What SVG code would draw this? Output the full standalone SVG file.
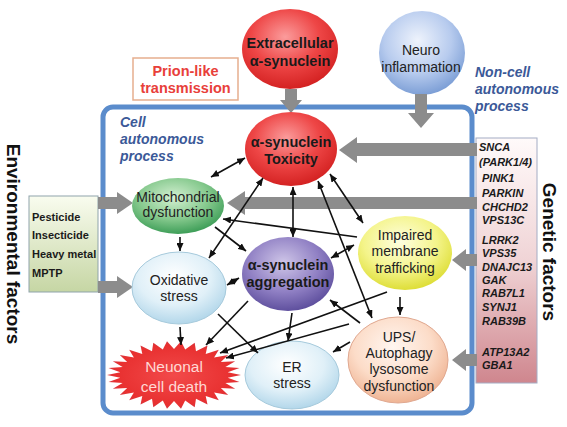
<svg xmlns="http://www.w3.org/2000/svg" width="567" height="427" viewBox="0 0 567 427">
<style>
text{font-family:"Liberation Sans",Arial,sans-serif;}
.t14{font-size:14px;fill:#222;text-anchor:middle;}
.b14{font-size:14.5px;font-weight:bold;fill:#1a1a1a;text-anchor:middle;}
.blue{font-size:14px;font-weight:bold;font-style:italic;fill:#3b5998;}
.gen{font-size:11px;font-weight:bold;font-style:italic;fill:#1a1a1a;}
.env{font-size:11px;font-weight:bold;fill:#1a1a1a;}
.side{font-size:19px;font-weight:bold;fill:#111;text-anchor:middle;}
.gray{fill:#8c8c8c;}
.ln{stroke:#111;stroke-width:1.6;fill:none;marker-end:url(#ah);}
.dbl{marker-start:url(#ah);}
</style>
<defs>
<marker id="ah" markerUnits="userSpaceOnUse" markerWidth="8" markerHeight="7" refX="8" refY="3.5" orient="auto-start-reverse"><path d="M0,0 L8,3.5 L0,7 z" fill="#111"/></marker>
<radialGradient id="gRed" cx="45%" cy="35%" r="65%"><stop offset="0" stop-color="#fb9c9c"/><stop offset="0.55" stop-color="#ee4646"/><stop offset="1" stop-color="#d42222"/></radialGradient>
<radialGradient id="gBlue" cx="45%" cy="35%" r="65%"><stop offset="0" stop-color="#eef3fc"/><stop offset="0.6" stop-color="#b7cbee"/><stop offset="1" stop-color="#7d9fd6"/></radialGradient>
<radialGradient id="gGreen" cx="45%" cy="35%" r="65%"><stop offset="0" stop-color="#d4f0d2"/><stop offset="0.6" stop-color="#84c88c"/><stop offset="1" stop-color="#3e9e58"/></radialGradient>
<radialGradient id="gLight" cx="45%" cy="35%" r="65%"><stop offset="0" stop-color="#ffffff"/><stop offset="0.6" stop-color="#e0f0f8"/><stop offset="1" stop-color="#b3d7ea"/></radialGradient>
<radialGradient id="gPurple" cx="45%" cy="35%" r="65%"><stop offset="0" stop-color="#cfc6e8"/><stop offset="0.6" stop-color="#9080c4"/><stop offset="1" stop-color="#5f509e"/></radialGradient>
<radialGradient id="gYellow" cx="45%" cy="35%" r="65%"><stop offset="0" stop-color="#fefee0"/><stop offset="0.6" stop-color="#f4f48a"/><stop offset="1" stop-color="#dede38"/></radialGradient>
<radialGradient id="gPeach" cx="45%" cy="35%" r="65%"><stop offset="0" stop-color="#fff6f0"/><stop offset="0.6" stop-color="#fcdcc8"/><stop offset="1" stop-color="#efb494"/></radialGradient>
<radialGradient id="gDeath" cx="50%" cy="50%" r="55%"><stop offset="0" stop-color="#f24a4a"/><stop offset="0.8" stop-color="#e83030"/><stop offset="1" stop-color="#c83a4a"/></radialGradient>
<linearGradient id="gEnv" x1="0" y1="0" x2="0" y2="1"><stop offset="0" stop-color="#f9fcef"/><stop offset="1" stop-color="#c6d6a4"/></linearGradient>
<linearGradient id="gGen" x1="0" y1="0" x2="0" y2="1"><stop offset="0" stop-color="#fffafa"/><stop offset="0.5" stop-color="#f0d4d6"/><stop offset="1" stop-color="#cf868e"/></linearGradient>
</defs>

<g id="cell-boundary">
<rect x="103" y="107" width="369" height="306" rx="10" fill="#ffffff" stroke="#5b8ccc" stroke-width="5"/>
<text class="blue" x="120" y="127">Cell</text>
<text class="blue" x="120" y="144">autonomous</text>
<text class="blue" x="120" y="161">process</text>
</g>

<g id="non-cell-label">
<text class="blue" x="475" y="77">Non-cell</text>
<text class="blue" x="475" y="94">autonomous</text>
<text class="blue" x="475" y="111">process</text>
</g>

<g id="prion">
<rect x="133" y="58" width="105" height="42" fill="#ffffff" stroke="#e6ae8e" stroke-width="1.5"/>
<text x="185.5" y="76" font-size="14.5" font-weight="bold" fill="#e8403a" text-anchor="middle">Prion-like</text>
<text x="185.5" y="93" font-size="14.5" font-weight="bold" fill="#e8403a" text-anchor="middle">transmission</text>
</g>

<g id="environmental">
<rect x="29" y="196" width="69" height="96" fill="url(#gEnv)" stroke="#8fa4ac" stroke-width="1"/>
<text class="env" x="32" y="221">Pesticide</text>
<text class="env" x="32" y="239">Insecticide</text>
<text class="env" x="32" y="258">Heavy metal</text>
<text class="env" x="32" y="277">MPTP</text>
<text class="side" transform="translate(14,244) rotate(90)" y="7">Environmental factors</text>
</g>

<g id="genetic">
<rect x="476" y="138" width="61" height="245" fill="url(#gGen)" stroke="#a4acc4" stroke-width="1"/>
<text class="gen" x="479" y="151">SNCA</text>
<text class="gen" x="479" y="166">(PARK1/4)</text>
<text class="gen" x="482" y="182">PINK1</text>
<text class="gen" x="482" y="197">PARKIN</text>
<text class="gen" x="482" y="211">CHCHD2</text>
<text class="gen" x="482" y="224">VPS13C</text>
<text class="gen" x="482" y="244">LRRK2</text>
<text class="gen" x="482" y="257">VPS35</text>
<text class="gen" x="482" y="271">DNAJC13</text>
<text class="gen" x="482" y="284">GAK</text>
<text class="gen" x="482" y="297">RAB7L1</text>
<text class="gen" x="482" y="311">SYNJ1</text>
<text class="gen" x="482" y="325">RAB39B</text>
<text class="gen" x="482" y="356">ATP13A2</text>
<text class="gen" x="482" y="369">GBA1</text>
<text class="side" transform="translate(550,252) rotate(90)" y="7">Genetic factors</text>
</g>

<g id="extracellular">
<ellipse cx="290" cy="49" rx="48" ry="40" fill="url(#gRed)"/>
<text class="b14" x="290" y="48">Extracellular</text>
<text class="b14" x="290" y="66">α-synuclein</text>
</g>

<g id="neuroinflammation">
<ellipse cx="422" cy="53" rx="43" ry="42" fill="url(#gBlue)"/>
<text class="t14" x="421" y="55">Neuro</text>
<text class="t14" x="421" y="72">inflammation</text>
</g>

<g id="gray-arrows">
<path class="gray" d="M285,89 L297,89 L297,100 L302,100 L291,113 L280,100 L285,100 Z"/>
<path class="gray" d="M415,94 L427,94 L427,113 L434,113 L421,128 L408,113 L415,113 Z"/>
<path class="gray" d="M477,143 L357,143 L357,137 L339,150 L357,163 L357,156 L477,156 Z"/>
<path class="gray" d="M477,197 L245,197 L245,191 L227,203 L245,215 L245,209 L477,209 Z"/>
<path class="gray" d="M98,197 L117,197 L117,192 L133,203 L117,214 L117,209 L98,209 Z"/>
<path class="gray" d="M98,281 L117,281 L117,276 L133,287 L117,298 L117,293 L98,293 Z"/>
<path class="gray" d="M477,254 L466,254 L466,249 L452,260 L466,271 L466,266 L477,266 Z"/>
<path class="gray" d="M477,354 L466,354 L466,349 L452,360 L466,371 L466,366 L477,366 Z"/>
</g>

<g id="toxicity">
<ellipse cx="291" cy="149" rx="46" ry="37" fill="url(#gRed)"/>
<text class="b14" x="291" y="147">α-synuclein</text>
<text class="b14" x="291" y="164">Toxicity</text>
</g>

<g id="mitochondrial">
<ellipse cx="178" cy="206" rx="46" ry="28" fill="url(#gGreen)"/>
<text class="t14" x="178" y="202">Mitochondrial</text>
<text class="t14" x="178" y="217">dysfunction</text>
</g>

<g id="oxidative">
<ellipse cx="179" cy="288" rx="47" ry="36" fill="url(#gLight)" stroke="#a6cadc" stroke-width="1"/>
<text class="t14" x="179" y="285" font-size="14.5">Oxidative</text>
<text class="t14" x="179" y="301" font-size="14.5">stress</text>
</g>

<g id="aggregation">
<ellipse cx="288" cy="274" rx="46" ry="37" fill="url(#gPurple)"/>
<text class="b14" x="288" y="270">α-synuclein</text>
<text class="b14" x="288" y="287">aggregation</text>
</g>

<g id="impaired">
<ellipse cx="405" cy="253" rx="47" ry="37" fill="url(#gYellow)"/>
<text class="t14" x="405" y="240">Impaired</text>
<text class="t14" x="405" y="256">membrane</text>
<text class="t14" x="405" y="273">trafficking</text>
</g>

<g id="ups">
<ellipse cx="398" cy="360" rx="50" ry="43" fill="url(#gPeach)" stroke="#e0a890" stroke-width="1"/>
<text class="t14" x="399" y="342" font-size="14.5">UPS/</text>
<text class="t14" x="399" y="358" font-size="14.5">Autophagy</text>
<text class="t14" x="399" y="374" font-size="14.5">lysosome</text>
<text class="t14" x="399" y="391" font-size="14.5">dysfunction</text>
</g>

<g id="er">
<ellipse cx="292" cy="375" rx="47" ry="34" fill="url(#gLight)" stroke="#a6cadc" stroke-width="1"/>
<text class="t14" x="292" y="372" font-size="14.5">ER</text>
<text class="t14" x="292" y="388" font-size="14.5">stress</text>
</g>

<g id="death">
<polygon fill="url(#gDeath)" points="241,375 227.7,377.7 239.5,382.1 225.4,383 235.2,388.8 220.8,388 228.2,395 214.1,392.4 218.8,400.3 205.7,396 207.5,404.4 196,398.8 194.7,407.3 185.2,400.4 181,408.8 174,401 167,408.8 162.8,400.4 153.3,407.3 152,398.8 140.5,404.4 142.3,396 129.2,400.3 133.9,392.4 119.8,395 127.2,388 112.8,388.8 122.6,383 108.5,382.1 120.3,377.7 107,375 120.3,372.3 108.5,367.9 122.6,367 112.8,361.2 127.2,362 119.8,355 133.9,357.6 129.2,349.7 142.3,354 140.5,345.6 152,351.2 153.3,342.7 162.8,349.6 167,341.2 174,349 181,341.2 185.2,349.6 194.7,342.7 196,351.2 207.5,345.6 205.7,354 218.8,349.7 214.1,357.6 228.2,355 220.8,362 235.2,361.2 225.4,367 239.5,367.9 227.7,372.3"/>
<text x="174" y="372" font-size="15.5" fill="#ffd8d4" text-anchor="middle">Neuonal</text>
<text x="174" y="392" font-size="15.5" fill="#ffd8d4" text-anchor="middle">cell death</text>
</g>

<g id="connectors">
<line class="ln dbl" x1="245" y1="158" x2="211" y2="177"/>
<line class="ln dbl" x1="263" y1="178" x2="209" y2="258"/>
<line class="ln dbl" x1="293" y1="187" x2="293" y2="237"/>
<line class="ln dbl" x1="330" y1="174" x2="363" y2="223"/>
<line class="ln dbl" x1="318" y1="181" x2="372" y2="318"/>
<line class="ln" x1="357" y1="237" x2="223" y2="219"/>
<line class="ln" x1="215" y1="227" x2="246" y2="251"/>
<line class="ln" x1="180" y1="237" x2="180" y2="251"/>
<line class="ln dbl" x1="227" y1="285" x2="239" y2="278"/>
<line class="ln dbl" x1="331" y1="258" x2="354" y2="245"/>
<line class="ln" x1="180" y1="327" x2="181" y2="345"/>
<line class="ln" x1="248" y1="301" x2="206" y2="345"/>
<line class="ln" x1="218" y1="314" x2="258" y2="353"/>
<line class="ln" x1="292" y1="313" x2="288" y2="341"/>
<line class="ln" x1="387" y1="292" x2="220" y2="353"/>
<line class="ln" x1="349" y1="324" x2="226" y2="358"/>
<line class="ln" x1="360" y1="323" x2="330" y2="300"/>
<line class="ln" x1="400" y1="297" x2="400" y2="315"/>
<line class="ln" x1="350" y1="342" x2="333" y2="352"/>
</g>
</svg>
